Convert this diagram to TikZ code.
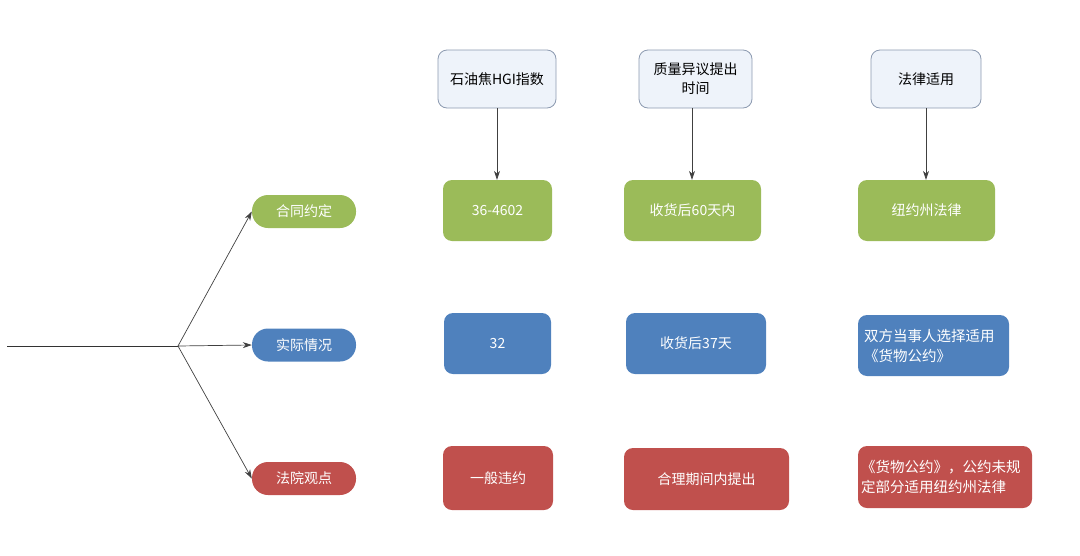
\documentclass[tikz,border=0pt]{standalone}
\usepackage{fontspec}
\setmainfont{Noto Sans CJK SC}
\usetikzlibrary{arrows.meta}
\definecolor{cgreen}{HTML}{9BBB59}
\definecolor{cblue}{HTML}{4F81BD}
\definecolor{cred}{HTML}{C0504D}
\definecolor{tfill}{HTML}{EEF3FA}
\definecolor{tdraw}{HTML}{8C9AB0}
\begin{document}
\begin{tikzpicture}[x=1pt,y=-1pt,
  every node/.style={font=\fontsize{14}{17}\selectfont, inner sep=0pt},
  topbox/.style={draw=tdraw, line width=0.8pt, fill=tfill, rounded corners=9pt, align=center, minimum height=58pt},
  colbox/.style={rounded corners=9pt, text=white, align=center, minimum height=61pt},
  gbox/.style={colbox, fill=cgreen},
  bbox/.style={colbox, fill=cblue},
  rbox/.style={colbox, fill=cred},
  widetext/.style={font=\fontsize{14.5}{20}\selectfont, align=left},
  pill/.style={rounded corners=16pt, text=white, minimum width=104pt, minimum height=33pt},
  conn/.style={draw=black!75, line width=0.7pt, -{Stealth[length=9pt,width=6pt]}}
]
\useasboundingbox (0,0) rectangle (1080,555);
% top headers
\node[topbox, minimum width=118pt] (T1) at (497,79) {石油焦HGI指数};
\node[topbox, minimum width=113pt, font=\fontsize{14}{19}\selectfont] (T2) at (695.5,79) {质量异议提出\\时间};
\node[topbox, minimum width=110pt] (T3) at (926,79) {法律适用};
% green row
\node[gbox, minimum width=109pt] (G1) at (497.5,210.5) {36-4602};
\node[gbox, minimum width=137pt] (G2) at (692.5,210.5) {收货后60天内};
\node[gbox, minimum width=137pt] (G3) at (926.5,210.5) {纽约州法律};
% blue row
\node[bbox, minimum width=107pt] (B1) at (497.5,343.5) {32};
\node[bbox, minimum width=140pt] (B2) at (696,343.5) {收货后37天};
\node[bbox, widetext, minimum width=151pt, text width=139pt] (B3) at (933.5,345.5) {双方当事人选择适用\\《货物公约》};
% red row
\node[rbox, minimum width=110pt, minimum height=64pt] (R1) at (498,478) {一般违约};
\node[rbox, minimum width=165pt, minimum height=62pt] (R2) at (706.5,479) {合理期间内提出};
\node[rbox, widetext, minimum width=174pt, minimum height=62pt, text width=168pt] (R3) at (945,477) {《货物公约》，公约未规\\定部分适用纽约州法律};
% pills
\node[pill, fill=cgreen] (P1) at (304,211.5) {合同约定};
\node[pill, fill=cblue] (P2) at (304,345) {实际情况};
\node[pill, fill=cred] (P3) at (304,478.5) {法院观点};
% left tree
\coordinate (S) at (7,346);
\coordinate (K) at (178,346);
\draw[black!80, line width=0.9pt] (S) -- (K);
\draw[conn] (K) -- (P1.west);
\draw[conn] (K) -- (P2.west);
\draw[conn] (K) -- (P3.west);
% vertical connectors
\draw[conn] (T1.south) -- (T1.south |- G1.north);
\draw[conn] (T2.south -| 692,0) -- (692,0 |- G2.north);
\draw[conn] (T3.south) -- (T3.south |- G3.north);
\end{tikzpicture}
\end{document}
